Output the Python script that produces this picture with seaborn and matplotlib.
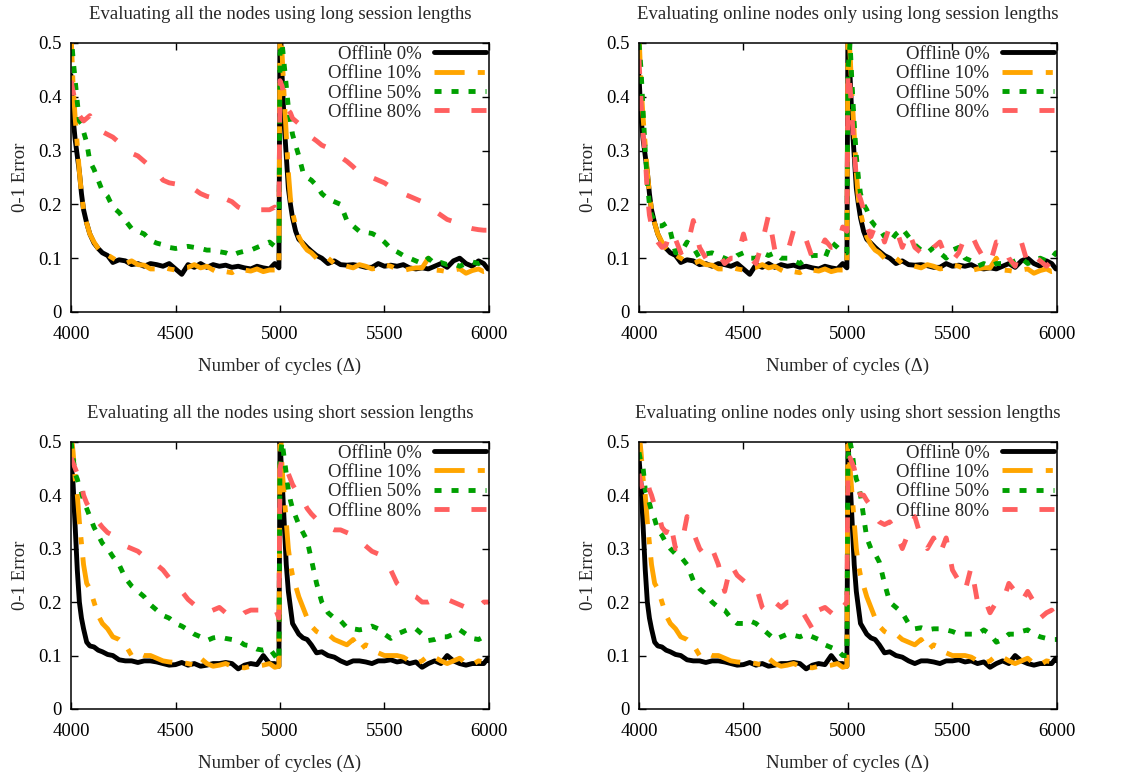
import matplotlib
matplotlib.use('Agg')
import matplotlib.pyplot as plt
import seaborn as sns

# cycles at which the error was sampled
x_cycles = [4000, 4010, 4020, 4030, 4040, 4050, 4060, 4075, 4090, 4110, 4130, 4150, 4175, 4200,
            4230, 4260, 4290, 4320, 4350, 4380, 4410, 4440, 4470, 4500, 4530, 4560, 4590, 4620,
            4650, 4680, 4710, 4740, 4770, 4800, 4830, 4860, 4890, 4920, 4950, 4975, 4995,
            5000, 5010, 5020, 5030, 5040, 5050, 5060, 5075, 5090, 5110, 5130, 5150, 5175, 5200,
            5230, 5260, 5290, 5320, 5350, 5380, 5410, 5440, 5470, 5500, 5530, 5560, 5590, 5620,
            5650, 5680, 5710, 5740, 5770, 5800, 5830, 5860, 5890, 5920, 5950, 5975, 5995, 6000]

# long session lengths
long_all_0 = [0.44, 0.36, 0.32, 0.29, 0.26, 0.22, 0.19, 0.165, 0.145, 0.128, 0.118, 0.11, 0.105, 0.092,
              0.097, 0.095, 0.088, 0.09, 0.085, 0.09, 0.088, 0.085, 0.09, 0.08, 0.07, 0.088, 0.083, 0.09,
              0.083, 0.088, 0.085, 0.087, 0.083, 0.085, 0.082, 0.08, 0.085, 0.082, 0.08, 0.09, 0.082,
              0.55, 0.44, 0.35, 0.29, 0.23, 0.2, 0.175, 0.15, 0.135, 0.128, 0.12, 0.113, 0.105, 0.1,
              0.09, 0.095, 0.088, 0.087, 0.088, 0.086, 0.083, 0.083, 0.09, 0.085, 0.087, 0.085, 0.088, 0.082,
              0.08, 0.082, 0.08, 0.085, 0.09, 0.083, 0.095, 0.1, 0.09, 0.085, 0.095, 0.09, 0.08, 0.08]
long_all_10 = [0.52, 0.42, 0.36, 0.31, 0.26, 0.22, 0.19, 0.165, 0.145, 0.13, 0.118, 0.108, 0.106, 0.1,
               0.093, 0.09, 0.095, 0.088, 0.087, 0.08, 0.08, 0.083, 0.08, 0.078, 0.082, 0.083, 0.088, 0.082,
               0.085, 0.078, 0.072, 0.075, 0.073, 0.08, 0.078, 0.076, 0.08, 0.075, 0.078, 0.078, 0.08,
               0.55, 0.48, 0.4, 0.33, 0.26, 0.21, 0.185, 0.16, 0.14, 0.125, 0.115, 0.11, 0.1, 0.095,
               0.1, 0.09, 0.088, 0.085, 0.082, 0.088, 0.085, 0.08, 0.082, 0.088, 0.085, 0.08, 0.077, 0.08,
               0.082, 0.082, 0.1, 0.078, 0.077, 0.075, 0.078, 0.08, 0.072, 0.077, 0.08, 0.075, 0.076, 0.075]
long_all_50 = [0.52, 0.47, 0.43, 0.39, 0.355, 0.35, 0.335, 0.315, 0.28, 0.265, 0.245, 0.225, 0.215, 0.195,
               0.185, 0.17, 0.155, 0.15, 0.145, 0.133, 0.128, 0.125, 0.12, 0.118, 0.12, 0.122, 0.12, 0.118,
               0.115, 0.115, 0.112, 0.11, 0.105, 0.11, 0.113, 0.115, 0.12, 0.125, 0.13, 0.122, 0.12,
               0.48, 0.5, 0.46, 0.42, 0.38, 0.355, 0.33, 0.31, 0.29, 0.26, 0.25, 0.245, 0.235, 0.22,
               0.21, 0.205, 0.2, 0.17, 0.16, 0.15, 0.148, 0.146, 0.14, 0.13, 0.118, 0.112, 0.105, 0.1,
               0.095, 0.09, 0.1, 0.09, 0.092, 0.088, 0.09, 0.085, 0.09, 0.093, 0.09, 0.095, 0.095, 0.097]
long_all_80 = [0.43, 0.41, 0.39, 0.375, 0.365, 0.36, 0.355, 0.36, 0.365, 0.35, 0.34, 0.335, 0.33, 0.325,
               0.315, 0.305, 0.295, 0.29, 0.28, 0.27, 0.26, 0.245, 0.24, 0.238, 0.235, 0.23, 0.228, 0.22,
               0.215, 0.212, 0.22, 0.21, 0.205, 0.195, 0.19, 0.19, 0.19, 0.19, 0.19, 0.195, 0.185,
               0.43, 0.42, 0.4, 0.39, 0.375, 0.37, 0.36, 0.355, 0.35, 0.34, 0.33, 0.325, 0.318, 0.31,
               0.305, 0.295, 0.288, 0.28, 0.27, 0.258, 0.255, 0.25, 0.245, 0.24, 0.232, 0.225, 0.22, 0.215,
               0.21, 0.205, 0.195, 0.188, 0.18, 0.172, 0.168, 0.16, 0.158, 0.155, 0.153, 0.152, 0.152, 0.152]
long_online_50 = [0.5, 0.45, 0.37, 0.3, 0.24, 0.2, 0.18, 0.17, 0.16, 0.16, 0.165, 0.15, 0.11, 0.11,
                  0.13, 0.12, 0.1, 0.108, 0.11, 0.105, 0.1, 0.095, 0.105, 0.11, 0.1, 0.1, 0.11, 0.105,
                  0.11, 0.1, 0.1, 0.095, 0.09, 0.1, 0.105, 0.105, 0.1, 0.13, 0.12, 0.11, 0.11,
                  0.45, 0.5, 0.42, 0.35, 0.29, 0.25, 0.22, 0.2, 0.19, 0.17, 0.16, 0.155, 0.14, 0.13,
                  0.145, 0.155, 0.14, 0.125, 0.115, 0.11, 0.12, 0.11, 0.1, 0.115, 0.12, 0.1, 0.095, 0.085,
                  0.09, 0.085, 0.09, 0.09, 0.085, 0.095, 0.1, 0.09, 0.095, 0.1, 0.095, 0.1, 0.11, 0.11]
long_online_80 = [0.47, 0.39, 0.33, 0.29, 0.22, 0.18, 0.16, 0.14, 0.13, 0.12, 0.125, 0.15, 0.135, 0.11,
                  0.12, 0.17, 0.12, 0.1, 0.1, 0.11, 0.09, 0.1, 0.1, 0.145, 0.1, 0.09, 0.13, 0.18,
                  0.115, 0.108, 0.11, 0.152, 0.13, 0.134, 0.1, 0.109, 0.134, 0.12, 0.121, 0.158, 0.15,
                  0.45, 0.42, 0.36, 0.3, 0.25, 0.22, 0.21, 0.19, 0.16, 0.14, 0.16, 0.16, 0.13, 0.16,
                  0.155, 0.12, 0.15, 0.12, 0.11, 0.1, 0.12, 0.13, 0.1, 0.095, 0.11, 0.14, 0.145, 0.12,
                  0.1, 0.09, 0.13, 0.13, 0.1, 0.085, 0.13, 0.09, 0.105, 0.095, 0.085, 0.095, 0.105, 0.105]

# short session lengths
short_all_0 = [0.47, 0.42, 0.34, 0.26, 0.2, 0.17, 0.15, 0.125, 0.118, 0.116, 0.11, 0.107, 0.102, 0.1,
               0.092, 0.09, 0.09, 0.087, 0.09, 0.09, 0.088, 0.085, 0.082, 0.083, 0.087, 0.082, 0.085, 0.08,
               0.082, 0.085, 0.085, 0.087, 0.085, 0.075, 0.082, 0.085, 0.083, 0.1, 0.085, 0.085, 0.08,
               0.5, 0.43, 0.35, 0.27, 0.22, 0.19, 0.16, 0.15, 0.14, 0.133, 0.13, 0.12, 0.105, 0.107,
               0.1, 0.097, 0.09, 0.085, 0.09, 0.09, 0.088, 0.085, 0.09, 0.09, 0.092, 0.088, 0.09, 0.085,
               0.088, 0.078, 0.085, 0.09, 0.085, 0.1, 0.09, 0.085, 0.082, 0.085, 0.085, 0.085, 0.095, 0.09]
short_all_10 = [0.52, 0.48, 0.43, 0.4, 0.35, 0.31, 0.27, 0.235, 0.225, 0.2, 0.175, 0.16, 0.15, 0.135,
                0.13, 0.12, 0.1, 0.105, 0.1, 0.1, 0.095, 0.09, 0.088, 0.087, 0.087, 0.085, 0.082, 0.095,
                0.085, 0.08, 0.082, 0.085, 0.08, 0.078, 0.077, 0.08, 0.08, 0.082, 0.085, 0.078, 0.08,
                0.55, 0.45, 0.4, 0.35, 0.3, 0.27, 0.25, 0.23, 0.21, 0.19, 0.17, 0.155, 0.145, 0.14,
                0.14, 0.13, 0.125, 0.12, 0.13, 0.11, 0.12, 0.115, 0.105, 0.1, 0.1, 0.1, 0.097, 0.09,
                0.085, 0.09, 0.1, 0.097, 0.09, 0.085, 0.09, 0.095, 0.085, 0.083, 0.09, 0.088, 0.085, 0.085]
short_all_50 = [0.5, 0.47, 0.44, 0.43, 0.415, 0.405, 0.39, 0.375, 0.36, 0.34, 0.325, 0.31, 0.3, 0.285,
                0.27, 0.245, 0.23, 0.22, 0.21, 0.195, 0.185, 0.175, 0.17, 0.16, 0.155, 0.148, 0.14, 0.135,
                0.128, 0.133, 0.135, 0.132, 0.13, 0.128, 0.12, 0.118, 0.112, 0.11, 0.113, 0.1, 0.09,
                0.47, 0.5, 0.47, 0.44, 0.41, 0.39, 0.375, 0.36, 0.345, 0.33, 0.315, 0.28, 0.235, 0.2,
                0.18, 0.17, 0.165, 0.152, 0.15, 0.148, 0.15, 0.155, 0.15, 0.14, 0.132, 0.14, 0.145, 0.15,
                0.15, 0.14, 0.128, 0.13, 0.135, 0.135, 0.14, 0.148, 0.14, 0.132, 0.13, 0.135, 0.14, 0.14]
short_all_80 = [0.47, 0.46, 0.45, 0.44, 0.44, 0.42, 0.4, 0.385, 0.375, 0.36, 0.35, 0.34, 0.33, 0.325,
                0.315, 0.305, 0.3, 0.295, 0.285, 0.28, 0.27, 0.26, 0.245, 0.23, 0.22, 0.205, 0.195, 0.185,
                0.18, 0.185, 0.19, 0.18, 0.175, 0.17, 0.18, 0.185, 0.185, 0.185, 0.19, 0.19, 0.17,
                0.45, 0.47, 0.46, 0.45, 0.44, 0.43, 0.42, 0.41, 0.4, 0.39, 0.375, 0.365, 0.355, 0.345,
                0.34, 0.335, 0.335, 0.33, 0.325, 0.315, 0.305, 0.295, 0.29, 0.28, 0.26, 0.235, 0.225, 0.215,
                0.21, 0.2, 0.2, 0.205, 0.205, 0.205, 0.2, 0.195, 0.19, 0.185, 0.19, 0.2, 0.2, 0.2]
short_online_50 = [0.48, 0.46, 0.45, 0.41, 0.4, 0.385, 0.37, 0.355, 0.335, 0.325, 0.31, 0.3, 0.29, 0.285,
                   0.27, 0.24, 0.225, 0.215, 0.2, 0.19, 0.185, 0.17, 0.16, 0.16, 0.165, 0.16, 0.15, 0.14,
                   0.13, 0.135, 0.14, 0.138, 0.135, 0.14, 0.135, 0.13, 0.12, 0.115, 0.11, 0.1, 0.1,
                   0.47, 0.5, 0.48, 0.45, 0.43, 0.42, 0.4, 0.36, 0.32, 0.3, 0.29, 0.275, 0.235, 0.2,
                   0.19, 0.18, 0.16, 0.15, 0.152, 0.148, 0.15, 0.15, 0.148, 0.145, 0.14, 0.14, 0.14, 0.14,
                   0.148, 0.14, 0.125, 0.13, 0.14, 0.14, 0.145, 0.148, 0.14, 0.135, 0.132, 0.13, 0.13, 0.13]
short_online_80 = [0.44, 0.42, 0.41, 0.42, 0.43, 0.41, 0.4, 0.38, 0.37, 0.34, 0.33, 0.35, 0.3, 0.3,
                   0.36, 0.33, 0.3, 0.285, 0.3, 0.27, 0.22, 0.27, 0.25, 0.24, 0.23, 0.23, 0.19, 0.18,
                   0.2, 0.19, 0.2, 0.2, 0.19, 0.17, 0.15, 0.185, 0.19, 0.18, 0.17, 0.19, 0.2,
                   0.46, 0.47, 0.46, 0.45, 0.43, 0.41, 0.4, 0.4, 0.39, 0.38, 0.36, 0.35, 0.345, 0.35,
                   0.33, 0.3, 0.33, 0.36, 0.32, 0.3, 0.32, 0.29, 0.32, 0.26, 0.24, 0.22, 0.266, 0.2,
                   0.21, 0.18, 0.2, 0.2, 0.235, 0.22, 0.2, 0.22, 0.2, 0.17, 0.18, 0.185, 0.17, 0.17]

titles = ['Evaluating all the nodes using long session lengths',
          'Evaluating online nodes only using long session lengths',
          'Evaluating all the nodes using short session lengths',
          'Evaluating online nodes only using short session lengths']
labels_top = ['Offline 0%', 'Offline 10%', 'Offline 50%', 'Offline 80%']
labels_bl = ['Offline 0%', 'Offline 10%', 'Offlien 50%', 'Offline 80%']
xticks = [4000, 4500, 5000, 5500, 6000]
yticks = [0, 0.1, 0.2, 0.3, 0.4, 0.5]
ytick_labels = ['0', '0.1', '0.2', '0.3', '0.4', '0.5']

panels = [
    (titles[0], [long_all_0, long_all_10, long_all_50, long_all_80], labels_top),
    (titles[1], [long_all_0, long_all_10, long_online_50, long_online_80], labels_top),
    (titles[2], [short_all_0, short_all_10, short_all_50, short_all_80], labels_bl),
    (titles[3], [short_all_0, short_all_10, short_online_50, short_online_80], labels_top),
]

# gnuplot-ish line styles
colors = ['#000000', '#FFA500', '#00A000', '#FF5F5F']
styles = ['-', (0, (6.2, 2.7, 1.45, 2.7)), (0, (1.45, 2.05)), (0, (3.1, 4.5))]

sns.set_theme(style='ticks')
plt.rcParams['font.family'] = ['Liberation Serif', 'DejaVu Serif']

fig = plt.figure(figsize=(11.22, 7.73), dpi=100)
positions = [[0.0633, 0.5964, 0.3725, 0.348],
             [0.5695, 0.5964, 0.3725, 0.348],
             [0.0633, 0.0828, 0.3725, 0.3458],
             [0.5695, 0.0828, 0.3725, 0.3458]]

fs = 13.5
for pos, (title, series, labels) in zip(positions, panels):
    ax = fig.add_axes(pos)
    for vals, lab, c, ls in zip(series, labels, colors, styles):
        sns.lineplot(x=x_cycles, y=vals, ax=ax, color=c, linewidth=3.5, linestyle=ls,
                     label=lab, estimator=None, sort=False)
    ax.set_xlim(4000, 6000)
    ax.set_ylim(0, 0.5)
    ax.set_xticks(xticks)
    ax.set_xticklabels([str(t) for t in xticks])
    ax.set_yticks(yticks)
    ax.set_yticklabels(ytick_labels)
    ax.tick_params(direction='in', length=5, width=1, top=True, right=True,
                   labelsize=fs, pad=7, colors='black')
    ax.tick_params(axis='x', pad=10)
    for sp in ax.spines.values():
        sp.set_visible(True)
        sp.set_linewidth(1.1)
        sp.set_color('black')
    ax.set_title(title, fontsize=fs, pad=17)
    ax.set_xlabel('Number of cycles (Δ)', fontsize=fs, labelpad=10)
    ax.set_ylabel('0-1 Error', fontsize=fs, labelpad=6)
    ax.legend(loc='upper right', frameon=False, markerfirst=False, fontsize=fs,
              handlelength=2.8, handletextpad=0.65, labelspacing=0.12,
              borderpad=0.1, borderaxespad=0.05)

fig.savefig('out.png', dpi=100)
